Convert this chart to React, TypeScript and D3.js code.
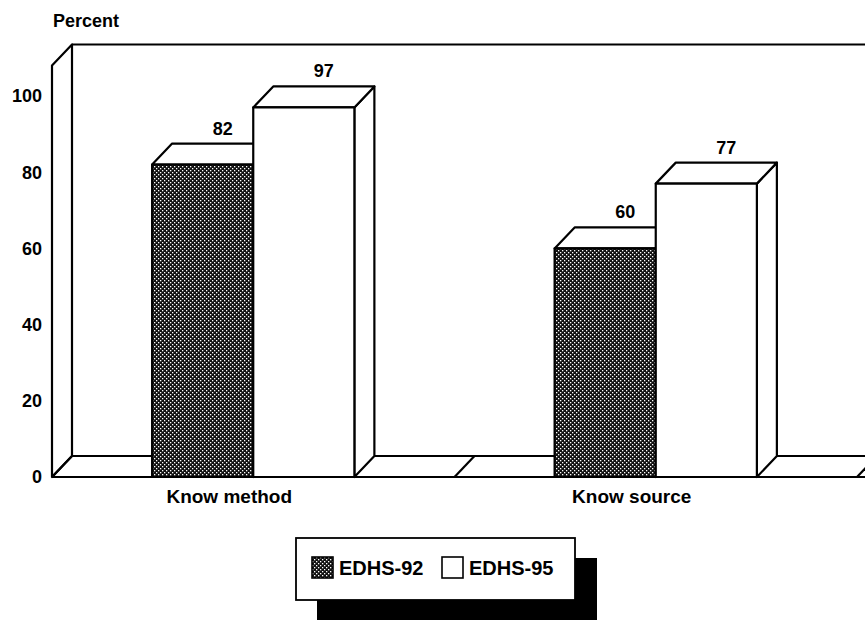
import * as d3 from "d3";
import { useEffect, useRef } from "react";

const CATEGORIES = ["Know method", "Know source"];
const SERIES = ["EDHS-92", "EDHS-95"];
const EDHS92 = [82, 60];
const EDHS95 = [97, 77];
const Y_TICKS = [0, 20, 40, 60, 80, 100];

const W = 865;
const H = 620;
const FONT = "'Liberation Sans', Arial, sans-serif";

export default function App() {
  const ref = useRef<SVGSVGElement | null>(null);

  useEffect(() => {
    if (!ref.current) return;
    const svg = d3.select(ref.current);
    svg.selectAll("*").remove();

    const dx = 20;
    const dy = -21;
    const left = 52;
    const right = 857;
    const y = d3.scaleLinear().domain([0, 100]).range([477, 96]);
    const yMax = 108;
    const x0 = d3.scaleBand().domain(CATEGORIES).range([left, right]);
    const x1 = d3.scaleBand().domain(SERIES).range([0, x0.bandwidth()]).paddingOuter(0.99);
    const values = [EDHS92, EDHS95];

    const defs = svg.append("defs");
    const pat = defs.append("pattern")
      .attr("id", "stipple")
      .attr("width", 4)
      .attr("height", 4)
      .attr("patternUnits", "userSpaceOnUse");
    pat.append("rect").attr("width", 4).attr("height", 4).attr("fill", "#111");
    pat.append("rect").attr("x", 0).attr("y", 0).attr("width", 1.3).attr("height", 1.3).attr("fill", "#fff");
    pat.append("rect").attr("x", 2).attr("y", 2).attr("width", 1.3).attr("height", 1.3).attr("fill", "#fff");

    const g = svg.append("g")
      .attr("stroke", "#000")
      .attr("stroke-width", 2.2)
      .attr("stroke-linejoin", "round");

    // left wall + back wall top
    const y0 = y(0);
    const yT = y(yMax);
    g.append("path")
      .attr("fill", "#fff")
      .attr("d", `M${left},${y0}L${left},${yT}L${left + dx},${yT + dy}L${left + dx},${y0 + dy}Z`);
    g.append("line")
      .attr("x1", left + dx).attr("x2", W + 20)
      .attr("y1", yT + dy).attr("y2", yT + dy);

    // floor
    g.append("line").attr("x1", left).attr("x2", W + 20).attr("y1", y0).attr("y2", y0);
    g.append("line").attr("x1", left + dx).attr("x2", W + 20).attr("y1", y0 + dy).attr("y2", y0 + dy);
    g.selectAll(".cat-edge")
      .data([...CATEGORIES.map((c) => x0(c) ?? 0), right])
      .join("line")
      .attr("x1", (d) => d).attr("x2", (d) => d + dx)
      .attr("y1", y0).attr("y2", y0 + dy);

    // bars
    CATEGORIES.forEach((cat, ci) => {
      SERIES.forEach((s, si) => {
        const v = values[si][ci];
        const xa = (x0(cat) ?? 0) + (x1(s) ?? 0);
        const xb = xa + x1.bandwidth();
        const yt = y(v);
        const fill = si === 0 ? "url(#stipple)" : "#fff";
        const bar = g.append("g");
        bar.append("path")
          .attr("fill", "#fff")
          .attr("d", `M${xb},${y0}L${xb},${yt}L${xb + dx},${yt + dy}L${xb + dx},${y0 + dy}Z`);
        bar.append("path")
          .attr("fill", "#fff")
          .attr("d", `M${xa},${yt}L${xa + dx},${yt + dy}L${xb + dx},${yt + dy}L${xb},${yt}Z`);
        bar.append("rect")
          .attr("x", xa).attr("y", yt)
          .attr("width", xb - xa).attr("height", y0 - yt)
          .attr("fill", fill);
        svg.append("text")
          .attr("x", (xa + xb) / 2 + dx)
          .attr("y", yt + dy - 9)
          .attr("text-anchor", "middle")
          .attr("font-family", FONT)
          .attr("font-weight", "bold")
          .attr("font-size", 18)
          .text(v);
      });
    });

    // y tick labels
    svg.append("g")
      .selectAll("text")
      .data(Y_TICKS)
      .join("text")
      .attr("x", 42)
      .attr("y", (d) => y(d))
      .attr("dy", "0.36em")
      .attr("text-anchor", "end")
      .attr("font-family", FONT)
      .attr("font-weight", "bold")
      .attr("font-size", 18)
      .text((d) => d);

    svg.append("text")
      .attr("x", 53).attr("y", 27)
      .attr("font-family", FONT)
      .attr("font-weight", "bold")
      .attr("font-size", 18)
      .text("Percent");

    // category labels (drawn a little left of the band centre, as in the original)
    svg.append("g")
      .selectAll("text")
      .data(CATEGORIES)
      .join("text")
      .attr("x", (d) => (x0(d) ?? 0) + x0.bandwidth() / 2 - 24)
      .attr("y", 503)
      .attr("text-anchor", "middle")
      .attr("font-family", FONT)
      .attr("font-weight", "bold")
      .attr("font-size", 19)
      .text((d) => d);

    // legend
    const lg = svg.append("g").attr("transform", "translate(296,538)");
    lg.append("rect").attr("x", 21).attr("y", 20).attr("width", 280).attr("height", 62).attr("fill", "#000");
    lg.append("rect").attr("width", 279).attr("height", 62).attr("fill", "#fff").attr("stroke", "#000").attr("stroke-width", 1.8);
    const items = lg.selectAll(".item")
      .data(SERIES)
      .join("g")
      .attr("transform", (_, i) => `translate(${16 + i * 130},19)`);
    items.append("rect")
      .attr("width", 21).attr("height", 21)
      .attr("fill", (_, i) => (i === 0 ? "url(#stipple)" : "#fff"))
      .attr("stroke", "#000").attr("stroke-width", 1.6);
    items.append("text")
      .attr("x", 27).attr("y", 18)
      .attr("font-family", FONT)
      .attr("font-weight", "bold")
      .attr("font-size", 20)
      .text((d) => d);
  }, []);

  return (
    <svg
      ref={ref}
      width={W}
      height={H}
      style={{ position: "absolute", left: 0, top: 0, background: "#fff" }}
    />
  );
}
